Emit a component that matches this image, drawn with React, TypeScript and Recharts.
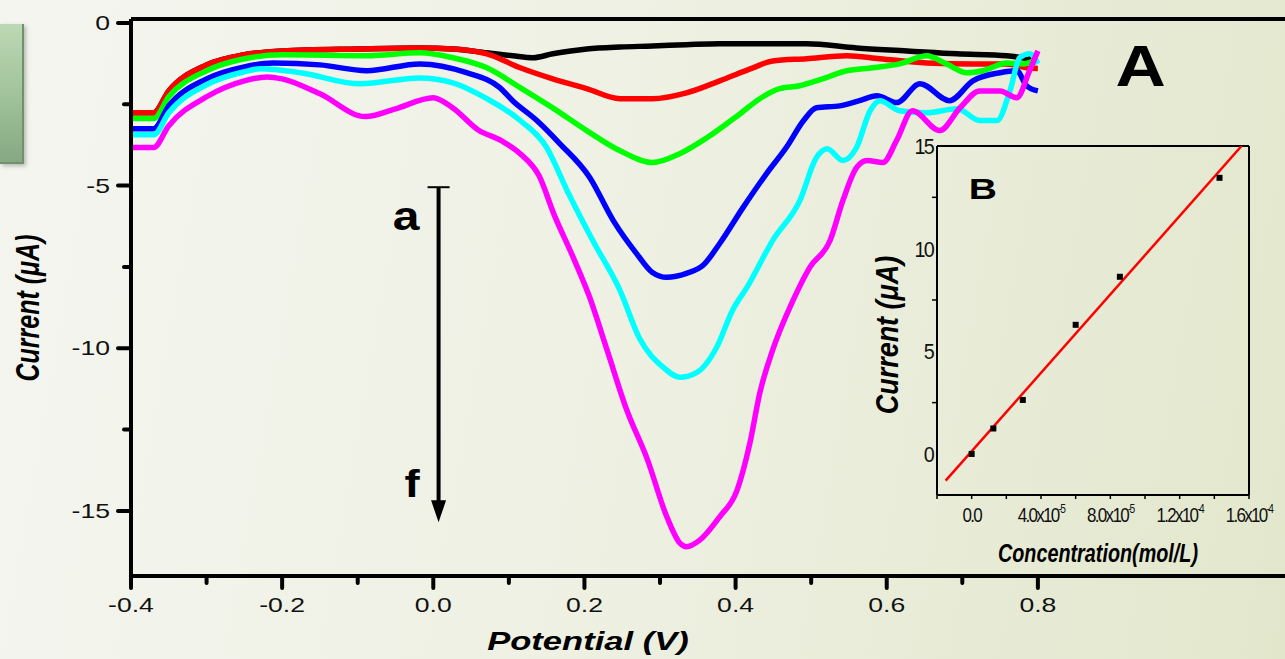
import React from 'react';
import {
  LineChart, Line, XAxis, YAxis, ReferenceLine, ReferenceDot,
  ComposedChart, Scatter,
} from 'recharts';

const FONT = '"Liberation Sans", Arial, Helvetica, sans-serif';

// ---- panel A: DPV curves a..f, potential (V) / current (µA)
const aPotential = [-0.4, -0.37, -0.35, -0.3, -0.25, -0.2, -0.1, -0.018, 0.026, 0.071, 0.105, 0.132, 0.158, 0.203, 0.247, 0.29, 0.335, 0.379, 0.423, 0.494, 0.56, 0.627, 0.693, 0.759, 0.789, 0.8];
const aCurrent = [-2.76, -2.76, -2.09, -1.29, -0.98, -0.86, -0.8, -0.77, -0.8, -0.92, -1.01, -1.07, -0.95, -0.8, -0.74, -0.71, -0.67, -0.64, -0.64, -0.64, -0.77, -0.86, -0.95, -1.01, -1.1, -1.12];

const bPotential = [-0.4, -0.37, -0.35, -0.3, -0.25, -0.2, -0.1, -0.018, 0.026, 0.071, 0.115, 0.158, 0.203, 0.247, 0.29, 0.335, 0.379, 0.423, 0.449, 0.494, 0.547, 0.591, 0.653, 0.714, 0.759, 0.785, 0.8];
const bCurrent = [-2.76, -2.76, -2.09, -1.29, -0.98, -0.86, -0.8, -0.77, -0.8, -0.95, -1.38, -1.72, -2.02, -2.33, -2.33, -2.15, -1.78, -1.38, -1.17, -1.1, -1.01, -1.1, -1.23, -1.26, -1.26, -1.38, -1.4];

const cPotential = [-0.4, -0.37, -0.35, -0.3, -0.25, -0.2, -0.088, -0.018, 0.026, 0.071, 0.115, 0.158, 0.203, 0.247, 0.29, 0.326, 0.362, 0.406, 0.432, 0.458, 0.485, 0.515, 0.547, 0.581, 0.617, 0.653, 0.679, 0.706, 0.727, 0.759, 0.78, 0.8];
const cCurrent = [-2.94, -2.94, -2.27, -1.47, -1.1, -0.98, -1.01, -0.92, -1.07, -1.38, -1.99, -2.61, -3.31, -3.93, -4.29, -4.02, -3.53, -2.79, -2.33, -2.02, -1.93, -1.72, -1.47, -1.38, -1.26, -1.01, -1.26, -1.53, -1.47, -1.23, -1.26, -1.1];

const dPotential = [-0.4, -0.37, -0.35, -0.3, -0.25, -0.212, -0.15, -0.088, -0.018, 0.044, 0.088, 0.105, 0.137, 0.167, 0.207, 0.238, 0.269, 0.29, 0.309, 0.335, 0.357, 0.379, 0.41, 0.441, 0.468, 0.49, 0.507, 0.538, 0.564, 0.587, 0.613, 0.644, 0.683, 0.714, 0.75, 0.772, 0.785, 0.8];
const dCurrent = [-3.25, -3.25, -2.55, -1.72, -1.35, -1.23, -1.29, -1.47, -1.26, -1.53, -1.99, -2.39, -3.0, -3.7, -4.75, -6.07, -7.09, -7.67, -7.82, -7.7, -7.45, -6.78, -5.67, -4.63, -3.8, -3.0, -2.61, -2.55, -2.39, -2.24, -2.45, -1.87, -2.39, -1.78, -1.53, -1.47, -1.93, -2.09];

const ePotential = [-0.4, -0.37, -0.35, -0.3, -0.25, -0.229, -0.176, -0.097, -0.018, 0.026, 0.071, 0.115, 0.15, 0.177, 0.211, 0.247, 0.273, 0.304, 0.326, 0.349, 0.375, 0.396, 0.415, 0.449, 0.485, 0.507, 0.521, 0.542, 0.56, 0.578, 0.591, 0.617, 0.653, 0.693, 0.723, 0.746, 0.763, 0.776, 0.789, 0.8];
const eCurrent = [-3.44, -3.44, -2.76, -1.9, -1.5, -1.41, -1.53, -1.87, -1.69, -1.84, -2.33, -3.0, -3.83, -5.15, -6.69, -8.22, -9.7, -10.58, -10.89, -10.74, -9.97, -8.83, -8.13, -6.69, -5.46, -4.14, -3.87, -4.23, -3.83, -2.7, -2.39, -2.7, -2.76, -2.64, -3.0, -3.0, -2.09, -1.07, -0.95, -1.26];

const fPotential = [-0.4, -0.37, -0.35, -0.3, -0.25, -0.22, -0.2, -0.15, -0.09, -0.05, 0, 0.025, 0.06, 0.09, 0.115, 0.14, 0.16, 0.185, 0.207, 0.23, 0.256, 0.283, 0.309, 0.326, 0.335, 0.353, 0.379, 0.402, 0.419, 0.432, 0.449, 0.476, 0.498, 0.525, 0.542, 0.56, 0.574, 0.595, 0.613, 0.634, 0.67, 0.697, 0.723, 0.75, 0.772, 0.789, 0.8];
const fCurrent = [-3.83, -3.83, -3.16, -2.27, -1.78, -1.66, -1.72, -2.18, -2.88, -2.64, -2.3, -2.6, -3.3, -3.62, -4.02, -4.7, -5.9, -7.2, -8.44, -10.06, -11.9, -13.4, -15.18, -15.98, -16.1, -15.89, -15.18, -14.36, -12.91, -11.38, -10.06, -8.53, -7.52, -6.69, -5.46, -4.45, -4.23, -4.29, -3.62, -2.7, -3.31, -2.61, -2.09, -2.09, -2.3, -1.47, -0.86];

const curveNames = ['a', 'b', 'c', 'd', 'e', 'f'];
const curveColors = ['#000000', '#ff0000', '#00ff00', '#0000ff', '#00ffff', '#ff00ff'];

const xMajorTicks = [-0.4, -0.2, 0, 0.2, 0.4, 0.6, 0.8];
const xMinorTicks = [-0.3, -0.1, 0.1, 0.3, 0.5, 0.7];
const xTickLabels = ['-0.4', '-0.2', '0.0', '0.2', '0.4', '0.6', '0.8'];
const yMajorTicks = [0, -5, -10, -15];
const yMinorTicks = [-2.5, -7.5, -12.5];
const yTickLabels = ['0', '-5', '-10', '-15'];

// ---- panel B: calibration, concentration (mol/L) / current (µA)
const concValues = [0, 1.25e-5, 2.95e-5, 6.0e-5, 8.55e-5, 1.43e-4];
const peakCurrents = [0, 1.24, 2.63, 6.29, 8.63, 13.45];
const fitConc = [-1.5e-5, 1.557e-4];
const fitCurrent = [-1.3, 15.0];

const insetXMajor = [0, 4e-5, 8e-5, 1.2e-4, 1.6e-4];
const insetXMinor = [-2e-5, 2e-5, 6e-5, 1e-4, 1.4e-4];
const insetXMantissa = ['0.0', '4.0x10', '8.0x10', '1.2x10', '1.6x10'];
const insetXExponent = ['', '-5', '-5', '-4', '-4'];
const insetYMajor = [0, 5, 10, 15];
const insetYMinor = [2.5, 7.5, 12.5];
const insetYLabels = ['0', '5', '10', '15'];

const X_MIN = -0.4;
const X_MAX = 1.127; // figure is cropped on the right
const Y_MIN = -17;
const Y_TOP = 0.12;

const curves = curveNames.map((name, k) => {
  const v = [aPotential, bPotential, cPotential, dPotential, ePotential, fPotential][k];
  const i = [aCurrent, bCurrent, cCurrent, dCurrent, eCurrent, fCurrent][k];
  return { name, color: curveColors[k], data: v.map((x, j) => ({ v: x, i: i[j] })) };
});

const scatterData = concValues.map((c, k) => ({ c, i: peakCurrents[k] }));
const fitData = fitConc.map((c, k) => ({ c, i: fitCurrent[k] }));

const findIdx = (arr: number[], v: number, eps: number) => arr.findIndex((t) => Math.abs(t - v) < eps);

function MainXTick({ x, y, payload }: any) {
  const idx = findIdx(xMajorTicks, payload.value, 1e-6);
  const major = idx >= 0;
  return (
    <g>
      <line x1={x} x2={x} y1={y} y2={y + (major ? 12 : 7)} stroke="#000" strokeWidth={4} strokeLinecap="round" />
      {major && (
        <text transform={`translate(${x},${y + 36}) scale(1.33,1)`} textAnchor="middle"
          fontSize={20} fontFamily={FONT} fill="#111">{xTickLabels[idx]}</text>
      )}
    </g>
  );
}

function MainYTick({ x, y, payload }: any) {
  const idx = findIdx(yMajorTicks, payload.value, 1e-6);
  const major = idx >= 0;
  return (
    <g>
      <line x1={x} x2={x - (major ? 13 : 7)} y1={y} y2={y} stroke="#000" strokeWidth={4} strokeLinecap="round" />
      {major && (
        <text transform={`translate(${x - 21},${y + 7}) scale(1.33,1)`} textAnchor="end"
          fontSize={20} fontFamily={FONT} fill="#111">{yTickLabels[idx]}</text>
      )}
    </g>
  );
}

function InsetXTick({ x, y, payload }: any) {
  const idx = findIdx(insetXMajor, payload.value, 1e-12);
  return (
    <g>
      <line x1={x} x2={x} y1={y} y2={y + 4} stroke="#000" strokeWidth={1.5} />
      {idx >= 0 && (
        <text transform={`translate(${x},${y + 27}) scale(0.85,1)`} textAnchor="middle"
          fontSize={20} fontFamily={FONT} fill="#111" letterSpacing={-2}>
          {insetXMantissa[idx]}
          {insetXExponent[idx] && <tspan fontSize={12} dy={-9}>{insetXExponent[idx]}</tspan>}
        </text>
      )}
    </g>
  );
}

function InsetYTick({ x, y, payload }: any) {
  const idx = findIdx(insetYMajor, payload.value, 1e-6);
  if (idx < 0) {
    return <line x1={x} x2={x - 5} y1={y} y2={y} stroke="#000" strokeWidth={1.5} />;
  }
  return (
    <text transform={`translate(${x - 4},${y + 8}) scale(0.9,1)`} textAnchor="end"
      fontSize={22} fontFamily={FONT} fill="#111" letterSpacing={-2}>{insetYLabels[idx]}</text>
  );
}

const textDot = (value: string, size: number, sx: number) => (p: any) => (
  <text transform={`translate(${p.cx},${p.cy}) scale(${sx},1)`} textAnchor="middle"
    fontSize={size} fontWeight="bold" fontFamily={FONT} fill="#000">{value}</text>
);

function ArrowShape(p: any) {
  const { x1, y1, y2 } = p;
  return (
    <g>
      <line x1={x1 - 11} x2={x1 + 11} y1={y1} y2={y1} stroke="#000" strokeWidth={2} />
      <line x1={x1} x2={x1} y1={y1} y2={y2 - 18} stroke="#000" strokeWidth={4} />
      <polygon points={`${x1 - 7.5},${y2 - 22} ${x1 + 7.5},${y2 - 22} ${x1},${y2}`} fill="#000" />
    </g>
  );
}

export default function App() {
  return (
    <div style={{
      position: 'absolute', left: 0, top: 0, width: 1285, height: 659, overflow: 'hidden',
      background: 'linear-gradient(100deg, #f4f5ef 0%, #eff1e4 45%, #e2e7cc 100%)',
    }}>
      <div style={{
        position: 'absolute', left: 0, top: 24, width: 22, height: 138,
        background: 'linear-gradient(180deg, #bcd8b4 0%, #9fc199 55%, #86a983 100%)',
        borderRight: '2px solid #6f926b', borderBottom: '2px solid #6f926b',
        boxShadow: '2px 2px 4px rgba(0,0,0,0.25)',
      }} />

      <div style={{ position: 'absolute', left: 0, top: 0 }}>
        <LineChart width={1285} height={659} margin={{ top: 19, right: 0, bottom: 43, left: 61 }}>
          <XAxis
            type="number" dataKey="v" domain={[X_MIN, X_MAX]} allowDataOverflow
            ticks={[...xMajorTicks, ...xMinorTicks]} interval={0}
            tick={<MainXTick />} tickLine={false} tickSize={0} tickMargin={0} height={40}
            axisLine={{ stroke: '#000', strokeWidth: 4 }}
            label={{
              content: () => (
                <text transform="translate(588,650) scale(1.33,1)" textAnchor="middle" fontSize={26}
                  fontWeight="bold" fontStyle="italic" fontFamily={FONT} fill="#000">Potential (V)</text>
              ),
            }}
          />
          <YAxis
            type="number" domain={[Y_MIN, Y_TOP]} allowDataOverflow
            ticks={[...yMajorTicks, ...yMinorTicks]} interval={0}
            tick={<MainYTick />} tickLine={false} tickSize={0} tickMargin={0} width={70}
            axisLine={{ stroke: '#000', strokeWidth: 4 }}
            label={{
              content: () => (
                <text transform="translate(39,308) scale(1.33,1) rotate(-90)" textAnchor="middle" fontSize={25}
                  fontWeight="bold" fontStyle="italic" fontFamily={FONT} fill="#000">Current (μA)</text>
              ),
            }}
          />
          <ReferenceLine y={Y_TOP} stroke="#000" strokeWidth={4} />
          {curves.map((c) => (
            <Line key={c.name} data={c.data} dataKey="i" name={c.name} type="monotone"
              stroke={c.color} strokeWidth={5.5} dot={false} activeDot={false} isAnimationActive={false} />
          ))}
          <ReferenceLine segment={[{ x: 0.007, y: -5.05 }, { x: 0.007, y: -15.35 }]} ifOverflow="visible" shape={ArrowShape} />
          <ReferenceDot x={-0.036} y={-6.38} r={0} shape={textDot('a', 40, 1.2)} />
          <ReferenceDot x={-0.028} y={-14.57} r={0} shape={textDot('f', 38, 1.2)} />
          <ReferenceDot x={0.936} y={-1.93} r={0} shape={textDot('A', 58, 1.2)} />
        </LineChart>
      </div>

      <div style={{ position: 'absolute', left: 860, top: 130 }}>
        <ComposedChart width={425} height={470} margin={{ top: 16, right: 36, bottom: 65, left: 27 }}>
          <XAxis
            type="number" dataKey="c" domain={[-2e-5, 1.6e-4]} allowDataOverflow
            ticks={[...insetXMajor, ...insetXMinor]} interval={0}
            tick={<InsetXTick />} tickLine={false} tickSize={0} tickMargin={0} height={40}
            axisLine={{ stroke: '#000', strokeWidth: 2 }}
            label={{
              content: () => (
                <text x={238} y={432} textAnchor="middle" fontSize={25} fontWeight="bold" fontStyle="italic"
                  fontFamily={FONT} fill="#000" textLength={200} lengthAdjust="spacingAndGlyphs">Concentration(mol/L)</text>
              ),
            }}
          />
          <YAxis
            type="number" domain={[-2, 15]} allowDataOverflow
            ticks={[...insetYMajor, ...insetYMinor]} interval={0}
            tick={<InsetYTick />} tickLine={false} tickSize={0} tickMargin={0} width={50}
            axisLine={{ stroke: '#000', strokeWidth: 2 }}
            label={{
              content: () => (
                <text transform="translate(38,205) scale(1.15,1) rotate(-90)" textAnchor="middle" fontSize={27}
                  fontWeight="bold" fontStyle="italic" fontFamily={FONT} fill="#000">Current (μA)</text>
              ),
            }}
          />
          <ReferenceLine y={15} stroke="#000" strokeWidth={2} />
          <ReferenceLine x={1.6e-4} stroke="#000" strokeWidth={2} />
          <Line data={fitData} dataKey="i" type="linear" stroke="#ff0000" strokeWidth={2.5}
            dot={false} activeDot={false} isAnimationActive={false} />
          <Scatter data={scatterData} dataKey="i" fill="#000" isAnimationActive={false}
            shape={(p: any) => <rect x={p.cx - 3} y={p.cy - 3} width={6} height={6} fill="#000" />} />
          <ReferenceDot x={6.5e-6} y={12.4} r={0} shape={textDot('B', 30, 1.3)} />
        </ComposedChart>
      </div>
    </div>
  );
}
